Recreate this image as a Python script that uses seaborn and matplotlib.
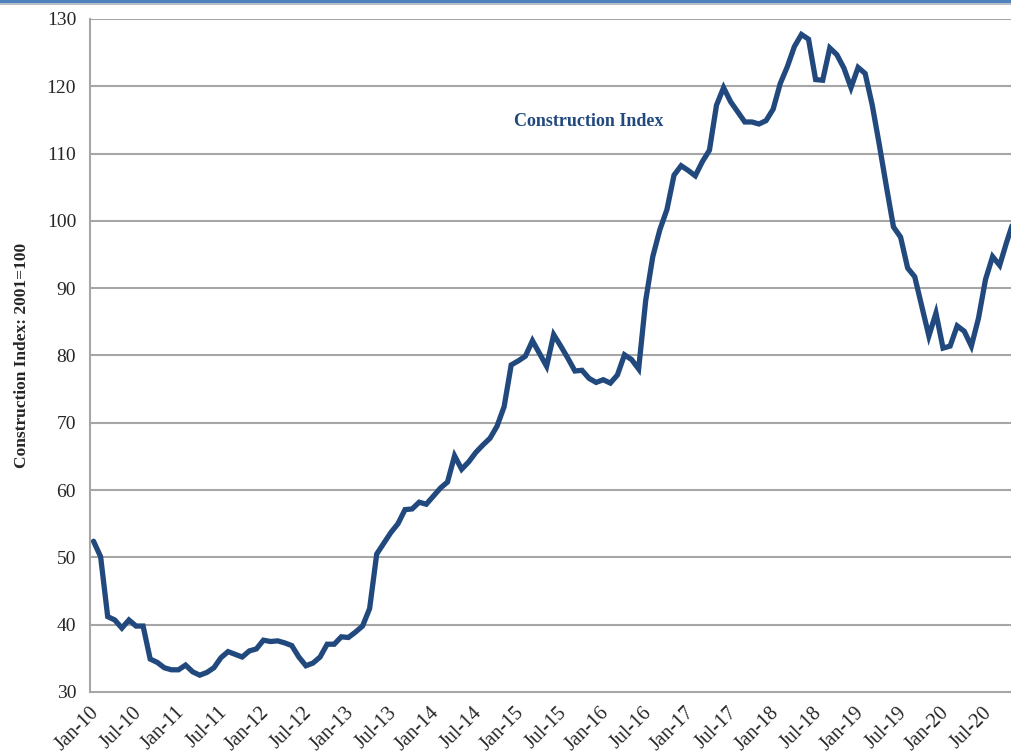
import numpy as np
import pandas as pd
import matplotlib
matplotlib.use("Agg")
import matplotlib.pyplot as plt
from matplotlib.patches import Rectangle
import seaborn as sns

# ---- data (monthly, starting Jan-2010) ----
construction_index = [
    52.4, 50.1, 41.2, 40.7, 39.5, 40.7, 39.8, 39.8, 34.9, 34.4, 33.6, 33.3,
    33.3, 34.0, 33.0, 32.5, 32.9, 33.6, 35.1, 36.0, 35.6, 35.2, 36.1, 36.4,
    37.7, 37.5, 37.6, 37.3, 36.9, 35.2, 33.9, 34.3, 35.2, 37.1, 37.1, 38.2,
    38.1, 38.9, 39.8, 42.4, 50.5, 52.1, 53.7, 55.0, 57.1, 57.2, 58.2, 57.9,
    59.1, 60.3, 61.2, 65.1, 63.1, 64.2, 65.6, 66.7, 67.7, 69.5, 72.4, 78.6,
    79.2, 79.9, 82.2, 80.3, 78.4, 83.1, 81.4, 79.6, 77.7, 77.8, 76.6, 76.0,
    76.4, 75.9, 77.1, 80.1, 79.4, 78.0, 88.2, 94.7, 98.7, 101.7, 106.8, 108.2,
    107.5, 106.7, 108.8, 110.5, 117.2, 119.8, 117.7, 116.2, 114.7, 114.7, 114.4, 114.9,
    116.6, 120.4, 122.9, 125.9, 127.7, 127.0, 121.0, 120.9, 125.7, 124.7, 122.7, 119.8,
    122.8, 121.9, 117.2, 111.3, 105.1, 99.1, 97.6, 93.0, 91.7, 87.3, 82.9, 86.3,
    81.1, 81.4, 84.4, 83.6, 81.4, 85.5, 91.3, 94.7, 93.4, 96.9, 100.1,
]
months = pd.date_range("2010-01-01", periods=len(construction_index), freq="MS")
tick_labels = ["Jan-10", "Jul-10", "Jan-11", "Jul-11", "Jan-12", "Jul-12",
               "Jan-13", "Jul-13", "Jan-14", "Jul-14", "Jan-15", "Jul-15",
               "Jan-16", "Jul-16", "Jan-17", "Jul-17", "Jan-18", "Jul-18",
               "Jan-19", "Jul-19", "Jan-20", "Jul-20"]
y_ticks = [30, 40, 50, 60, 70, 80, 90, 100, 110, 120, 130]
series_name = "Construction Index"
y_label = "Construction Index: 2001=100"

df = pd.DataFrame({"idx": np.arange(len(months)), "month": months,
                   "value": construction_index})

sns.set_style("white")
plt.rcParams["font.family"] = ["Liberation Serif", "DejaVu Serif"]

W, H = 1011, 754
fig = plt.figure(figsize=(W / 100, H / 100), dpi=100)
ax = fig.add_axes([90 / W, 1 - 692 / H, 1 - 90 / W, (692 - 19) / H])

line_color = "#21497E"
grid_color = "#A6A6A6"

ax.set_axisbelow(True)
for yt in y_ticks[1:]:
    ax.axhline(yt, color=grid_color, lw=1.5, zorder=0)

sns.lineplot(data=df, x="idx", y="value", ax=ax, color=line_color,
             linewidth=3.8, legend=False, zorder=3)
for ln in ax.lines:
    ln.set_solid_joinstyle("miter")

ax.set_ylim(30, 130)
ax.set_xlim(-0.5, 129.6)
ax.set_yticks(y_ticks)
ax.set_yticklabels([str(v) for v in y_ticks], fontsize=14)
xt = [6 * k - 0.5 for k in range(len(tick_labels))]
ax.set_xticks(xt)
ax.set_xticklabels(tick_labels, fontsize=14.5, rotation=45, ha="right",
                   rotation_mode="anchor")
ax.tick_params(axis="both", which="both", length=5, width=1.5,
               color=grid_color, direction="out")
ax.tick_params(axis="x", pad=3)
ax.tick_params(axis="y", pad=5)

for s in ["top", "right"]:
    ax.spines[s].set_visible(False)
for s in ["left", "bottom"]:
    ax.spines[s].set_color(grid_color)
    ax.spines[s].set_linewidth(1.5)

ax.set_xlabel("")
ax.set_ylabel(y_label, fontsize=12.5, fontweight="bold")
ax.yaxis.set_label_coords(-60 / (W - 90), 0.5)

ax.text(59.4, 114.8, series_name, transform=ax.transData, fontsize=13,
        fontweight="bold", color=line_color, ha="left", va="center")

# top band
fig.patches.append(Rectangle((0, 1 - 2.5 / H), 1, 2.5 / H, transform=fig.transFigure,
                             facecolor="#4F81BD", edgecolor="none"))
fig.patches.append(Rectangle((0, 1 - 5 / H), 1, 2.5 / H, transform=fig.transFigure,
                             facecolor="#B8BEC6", edgecolor="none"))

fig.savefig("out.png", dpi=100)
